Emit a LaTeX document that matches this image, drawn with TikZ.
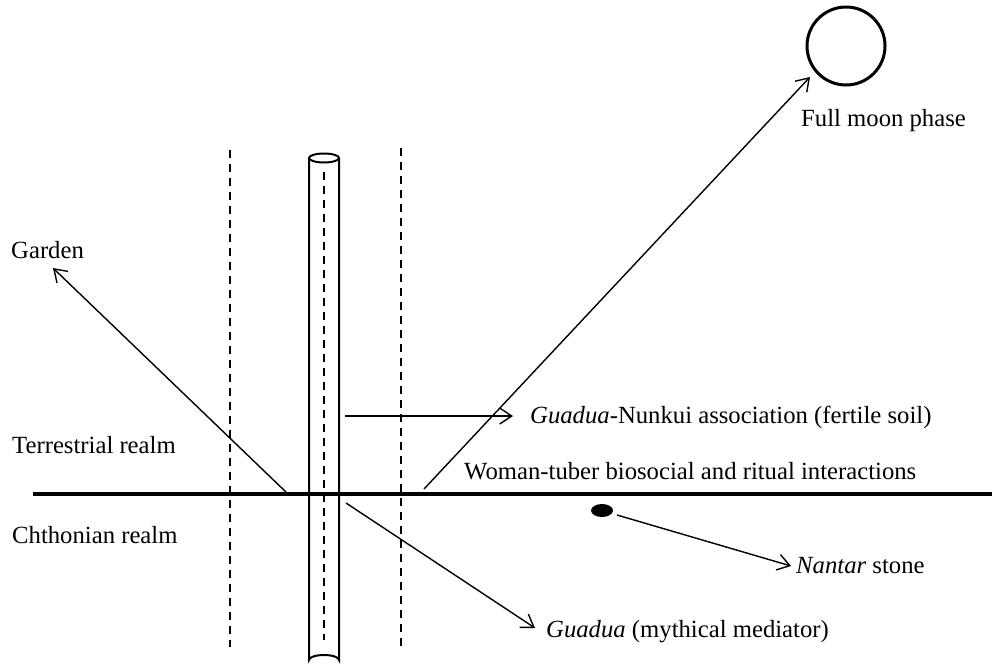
\documentclass[tikz,border=0pt]{standalone}
\usepackage{fontspec}
\setmainfont{Liberation Serif}
\usetikzlibrary{arrows.meta,shapes.geometric}
\begin{document}
\begin{tikzpicture}[x=1pt,y=-1pt,
  lbl/.style={anchor=base west,inner sep=0pt,font=\fontsize{24.7}{29}\selectfont},
  arr/.style={line width=1.4pt,-{Straight Barb[length=12pt,width=16pt,line width=1.4pt]}},
  dsh/.style={line width=1.5pt,dash pattern=on 8pt off 6pt},
  thickline/.style={line width=3.3pt},
  cyl/.style={line width=2pt}]
\useasboundingbox (0,0) rectangle (992,670);

% ground line
\coordinate (gl) at (33,494);
\coordinate (gr) at (992,494);
\draw[thickline] (gl) -- (gr);

% dashed boundaries
\coordinate (d1t) at (230,150);
\coordinate (d1b) at (230,647);
\coordinate (d2t) at (401,148);
\coordinate (d2b) at (401,648);
\draw[dsh] (d1t) -- (d1b);
\draw[dsh] (d2t) -- (d2b);

% cylinder (Guadua)
\draw[cyl] (324,158) ellipse [x radius=15, y radius=4.5];
\draw[cyl] (309,158) -- (309,660) arc[start angle=180, end angle=360, x radius=15, y radius=5] -- (339,158);
\coordinate (ct) at (324,172);
\coordinate (cb) at (324,640);
\draw[dsh] (ct) -- (cb);

% moon
\node[circle, draw, line width=3pt, minimum size=78pt, inner sep=0pt] (moon) at (846,46) {};

% stone
\node[ellipse, fill=black, minimum width=22pt, minimum height=13pt, inner sep=0pt] (stone) at (602,510.5) {};

% labels
\node[lbl] (full) at (801,126) {Full moon phase};
\node[lbl] (garden) at (11,258) {Garden};
\node[lbl] (terr) at (12,453) {Terrestrial realm};
\node[lbl] (chth) at (12,543) {Chthonian realm};
\node[lbl] (nunkui) at (530,423) {\textit{Guadua}-Nunkui association (fertile soil)};
\node[lbl] (woman) at (464,479) {Woman-tuber biosocial and ritual interactions};
\node[lbl] (nantar) at (796,573) {\textit{Nantar} stone};
\node[lbl] (medi) at (546,637) {\textit{Guadua} (mythical mediator)};

% arrow end points
\coordinate (gs) at (287,493);
\coordinate (ge) at (53,268);
\coordinate (ms) at (424,489);
\coordinate (me) at (810,77);
\coordinate (ns) at (345,416);
\coordinate (ne) at (513,416);
\coordinate (vs) at (346,503);
\coordinate (ve) at (535,628);
\coordinate (ss) at (617,515);
\coordinate (se) at (791,566);

\draw[arr] (gs) -- (ge);
\draw[arr] (ms) -- (me);
\draw[arr] (ns) -- (ne);
\draw[arr] (vs) -- (ve);
\draw[arr] (ss) -- (se);
\end{tikzpicture}
\end{document}
